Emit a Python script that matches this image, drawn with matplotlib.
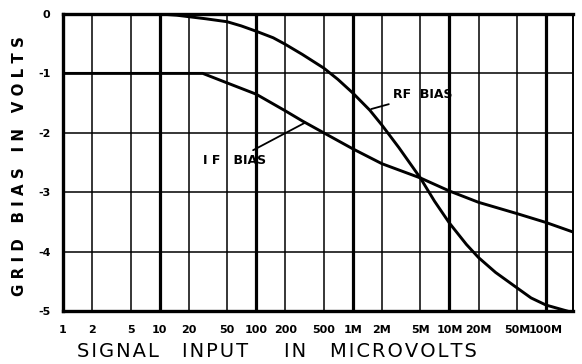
import numpy as np
import matplotlib.pyplot as plt

# signal input in microvolts ("1M" on the scale = 1000 microvolts)
rf_x = [1, 10, 15, 20, 30, 50, 70, 100, 150, 200, 300, 500, 700, 1000, 1500,
        2000, 3000, 5000, 7000, 10000, 15000, 20000, 30000, 50000, 70000,
        100000, 165000]
rf_y = [0, 0, -0.02, -0.045, -0.08, -0.13, -0.2, -0.29, -0.4, -0.51, -0.68,
        -0.91, -1.1, -1.33, -1.62, -1.87, -2.25, -2.76, -3.15, -3.52, -3.88,
        -4.1, -4.35, -4.61, -4.78, -4.9, -5.0]

if_x = [1, 28, 50, 100, 200, 300, 500, 1000, 2000, 5000, 10000, 20000, 50000,
        100000, 190000]
if_y = [-1, -1, -1.16, -1.35, -1.63, -1.8, -2.0, -2.27, -2.52, -2.76, -2.98,
        -3.17, -3.36, -3.51, -3.67]

xtick_vals = [1, 2, 5, 10, 20, 50, 100, 200, 500, 1000, 2000, 5000, 10000, 20000, 50000, 100000]
xtick_labels = ['1', '2', '5', '10', '20', '50', '100', '200', '500',
                '1M', '2M', '5M', '10M', '20M', '50M', '100M']
ytick_vals = [0, -1, -2, -3, -4, -5]
ytick_labels = ['0', '-1', '-2', '-3', '-4', '-5']

fig = plt.figure(figsize=(5.82, 3.64), dpi=100)
ax = fig.add_axes([0.1082, 0.1456, 0.8763, 0.8159])
ax.set_xscale('log')
ax.set_xlim(1, 1.9e5)
ax.set_ylim(-5, 0)

# grid: heavy decade lines, light 2 and 5 lines
for v in xtick_vals[1:]:
    heavy = v in (10, 100, 1000, 10000, 100000)
    ax.axvline(v, color='black', lw=2.3 if heavy else 1.1, zorder=1)
for v in ytick_vals[1:-1]:
    ax.axhline(v, color='black', lw=1.1, zorder=1)

ax.plot(rf_x, rf_y, color='black', lw=2.1, zorder=3, solid_joinstyle='round')
ax.plot(if_x, if_y, color='black', lw=2.1, zorder=3, solid_joinstyle='round')

for side in ['left', 'top', 'bottom']:
    ax.spines[side].set_linewidth(2.4)
ax.spines['right'].set_linewidth(1.4)

ax.set_xticks(xtick_vals)
ax.set_xticklabels(xtick_labels)
ax.set_yticks(ytick_vals)
ax.set_yticklabels(ytick_labels)
ax.minorticks_off()
ax.tick_params(axis='both', length=0, labelsize=8)
ax.tick_params(axis='x', pad=10)
ax.tick_params(axis='y', pad=9)
for lab in ax.get_xticklabels() + ax.get_yticklabels():
    lab.set_fontweight('bold')

ax.annotate('RF  BIAS', xy=(1550, -1.6), xytext=(2600, -1.36),
            fontsize=9, fontweight='bold', va='center', ha='left',
            arrowprops=dict(arrowstyle='-', color='black', lw=1.3,
                            shrinkA=1, shrinkB=0))
ax.annotate('I F   BIAS', xy=(320, -1.83), xytext=(28, -2.46),
            fontsize=9, fontweight='bold', va='center', ha='left',
            arrowprops=dict(arrowstyle='-', color='black', lw=1.3,
                            shrinkA=1, shrinkB=0))

fig.text(0.033, 0.544, 'G R I D   B I A S   I N   V O L T S', rotation=90,
         fontsize=10.8, fontweight='bold', ha='center', va='center')
# x axis title, word by word, letters slightly spread
for word, px in [('SIGNAL', 77), ('INPUT', 182), ('IN', 284), ('MICROVOLTS', 330)]:
    fig.text(px / 582, 0.033, '\u200a'.join(word), fontsize=14,
             ha='left', va='center')

fig.savefig('out.png', dpi=100)
